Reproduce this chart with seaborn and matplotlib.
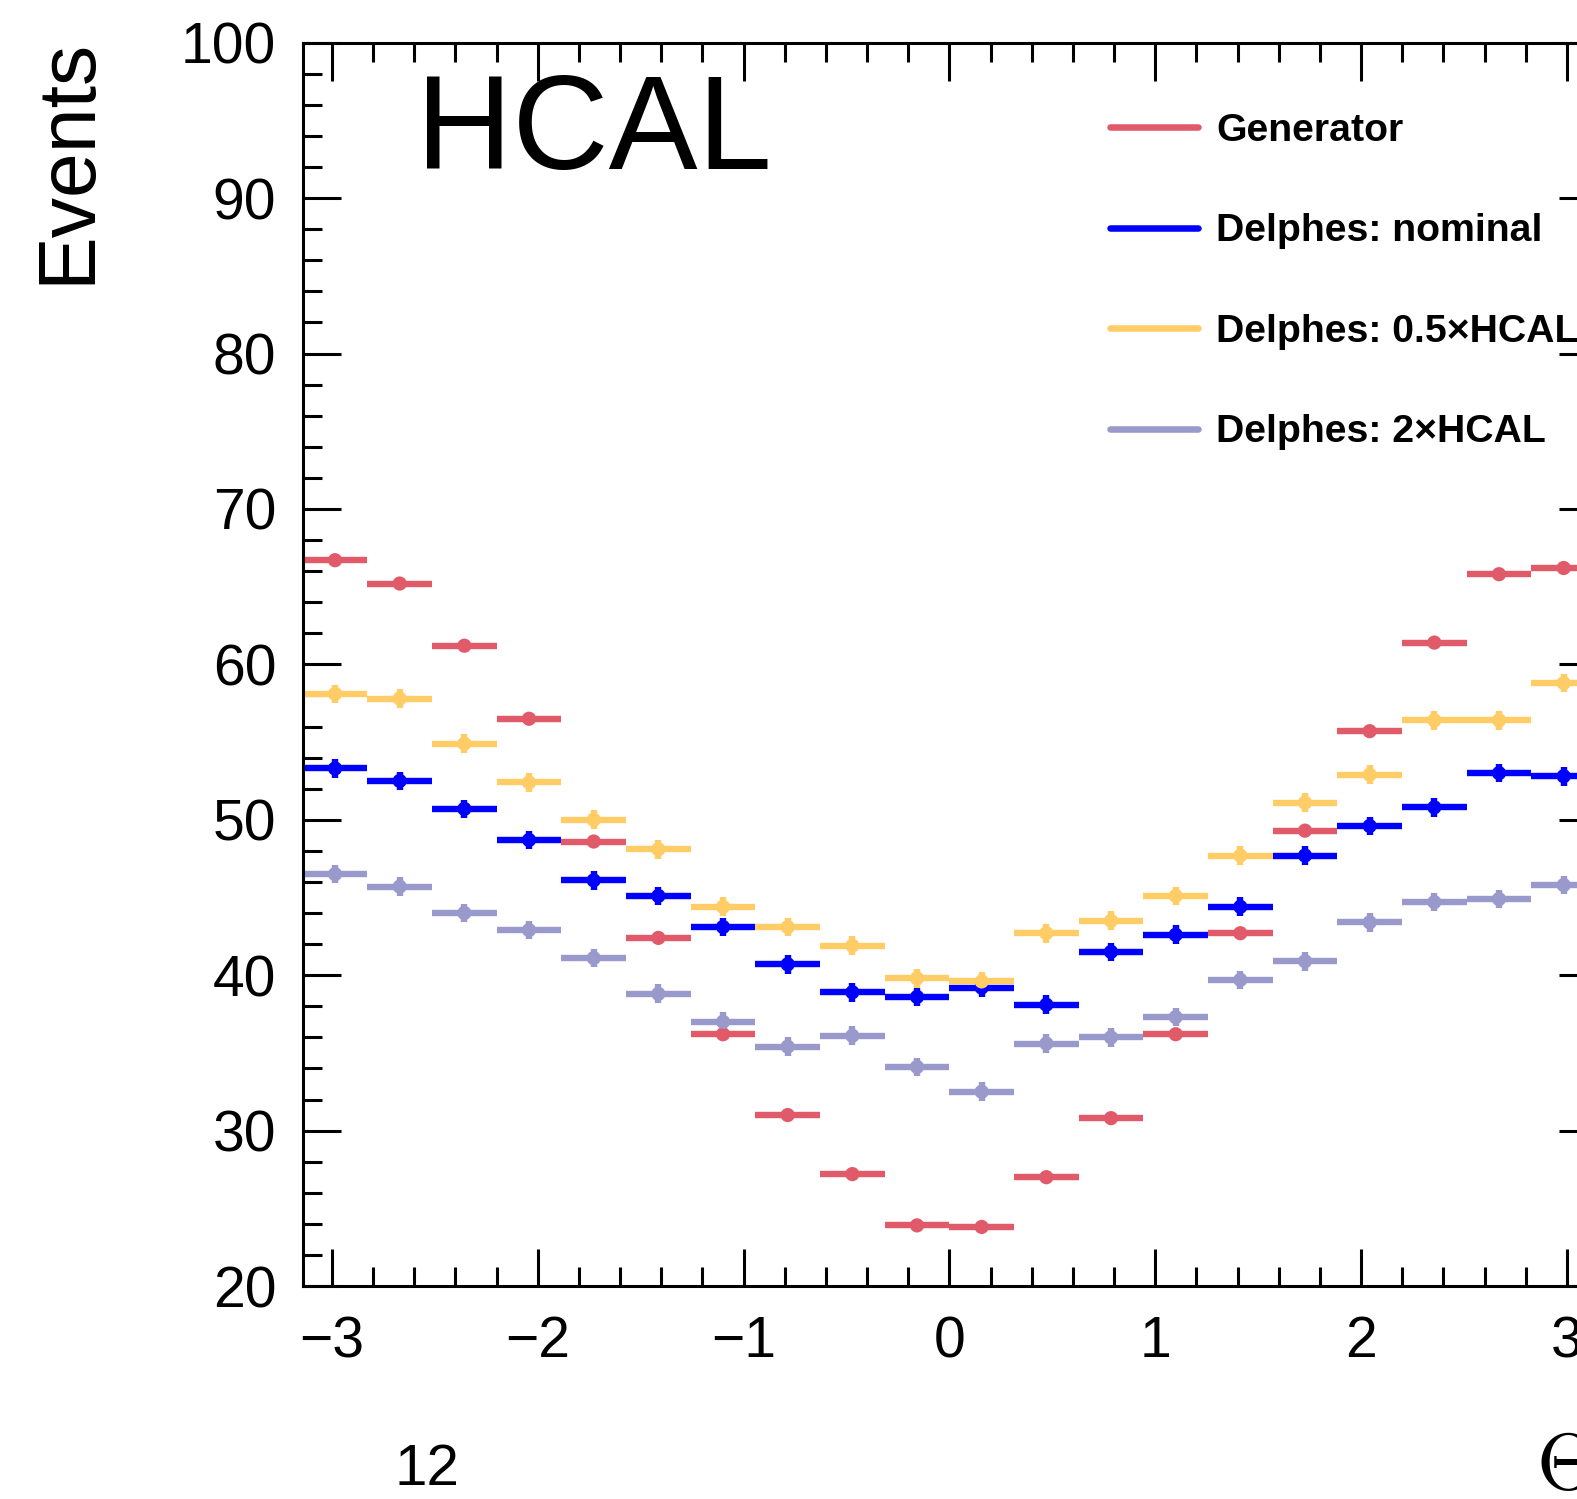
import numpy as np
import pandas as pd
import matplotlib
matplotlib.use("Agg")
import matplotlib.pyplot as plt
import seaborn as sns
from matplotlib.ticker import MultipleLocator
from matplotlib.lines import Line2D

# ---------------- data ----------------
n_bins = 20
x_lo, x_hi = -np.pi, np.pi

generator = [66.7, 65.2, 61.2, 56.5, 48.6, 42.4, 36.2, 31.0, 27.2, 23.9,
             23.8, 27.0, 30.8, 36.2, 42.7, 49.3, 55.7, 61.4, 65.8, 66.2]
nominal = [53.3, 52.5, 50.7, 48.7, 46.1, 45.1, 43.1, 40.7, 38.9, 38.6,
           39.2, 38.1, 41.5, 42.6, 44.4, 47.7, 49.6, 50.8, 53.0, 52.8]
half_hcal = [58.1, 57.8, 54.9, 52.4, 50.0, 48.1, 44.4, 43.1, 41.9, 39.8,
             39.6, 42.7, 43.5, 45.1, 47.7, 51.1, 52.9, 56.4, 56.4, 58.8]
double_hcal = [46.5, 45.7, 44.0, 42.9, 41.1, 38.8, 37.0, 35.4, 36.1, 34.1,
               32.5, 35.6, 36.0, 37.3, 39.7, 40.9, 43.4, 44.7, 44.9, 45.8]

series_names = ["Generator", "Delphes: nominal",
                "Delphes: 0.5\u00d7HCAL", "Delphes: 2\u00d7HCAL"]
series_values = [generator, nominal, half_hcal, double_hcal]
series_yerr = [0.0, 0.6, 0.6, 0.6]
colors = ["#e05a6a", "#0000ff", "#ffcc66", "#9999cc"]

x_ticks = [-3, -2, -1, 0, 1, 2, 3]
y_ticks = [20, 30, 40, 50, 60, 70, 80, 90, 100]

# ---------------- style ----------------
sns.set_style("ticks")
plt.rcParams["font.family"] = ["Liberation Sans", "DejaVu Sans"]
plt.rcParams["axes.unicode_minus"] = True
plt.rcParams["text.color"] = "black"
plt.rcParams["axes.labelcolor"] = "black"
plt.rcParams["xtick.color"] = "black"
plt.rcParams["ytick.color"] = "black"
plt.rcParams["mathtext.fontset"] = "cm"

W, H = 1577, 1499
fig = plt.figure(figsize=(W / 100, H / 100), dpi=100)
ax_left, ax_right, ax_top, ax_bot = 302.7, 1596.0, 42.7, 1286.0
ax = fig.add_axes([ax_left / W, 1 - ax_bot / H,
                   (ax_right - ax_left) / W, (ax_bot - ax_top) / H])

edges = np.linspace(x_lo, x_hi, n_bins + 1)
centers = 0.5 * (edges[:-1] + edges[1:])
half_w = 0.5 * (edges[1] - edges[0])

rows = []
for name, vals in zip(series_names, series_values):
    for c, v in zip(centers, vals):
        rows.append({"x": c, "y": v, "series": name})
df = pd.DataFrame(rows)

palette = dict(zip(series_names, colors))
for name, vals, yerr, col in zip(series_names, series_values, series_yerr, colors):
    ax.errorbar(centers, vals, xerr=half_w, yerr=(yerr if yerr > 0 else None),
                fmt="none", ecolor=col, elinewidth=4.6, capsize=0, zorder=2)

sns.scatterplot(data=df, x="x", y="y", hue="series", palette=palette,
                s=105, marker="o", edgecolor="none", legend=False, ax=ax, zorder=3)

ax.set_xlim(x_lo, x_hi)
ax.set_ylim(20, 100)
ax.set_xticks(x_ticks)
ax.set_yticks(y_ticks)
ax.xaxis.set_minor_locator(MultipleLocator(0.2))
ax.yaxis.set_minor_locator(MultipleLocator(2))
ax.set_xlabel("")
ax.set_ylabel("")
for s in ax.spines.values():
    s.set_linewidth(2.2)
    s.set_visible(True)
    s.set_color("black")
ax.tick_params(which="both", direction="in", top=True, right=True,
               width=2.2, colors="black", labelsize=41)
ax.tick_params(which="major", length=27)
ax.tick_params(which="minor", length=13.5)
ax.tick_params(axis="x", which="major", pad=21)
ax.tick_params(axis="y", which="major", pad=19)

# Legend
handles = [Line2D([0], [0], color=c, lw=4.7) for c in colors]
leg = fig.legend(handles, series_names, loc="upper left",
                 bbox_to_anchor=(1110 / W, 1 - 113 / H),
                 frameon=False, prop={"weight": "bold", "size": 28.3},
                 handlelength=2.25, handletextpad=0.45, labelspacing=1.64,
                 borderpad=0, borderaxespad=0)

# Texts
fig.text(68 / W, 1 - 38 / H, "Events", rotation=90, ha="center", va="top",
         fontsize=58)
fig.text(416 / W, 1 - 169 / H, "HCAL", ha="left", va="baseline", fontsize=96)
fig.text(427 / W, 1 - 1485 / H, "12", ha="center", va="baseline", fontsize=42)
fig.text(1536 / W, 1 - 1489 / H, r"$\Theta$", ha="left", va="baseline",
         fontsize=58)

fig.savefig("out.png", dpi=100)
